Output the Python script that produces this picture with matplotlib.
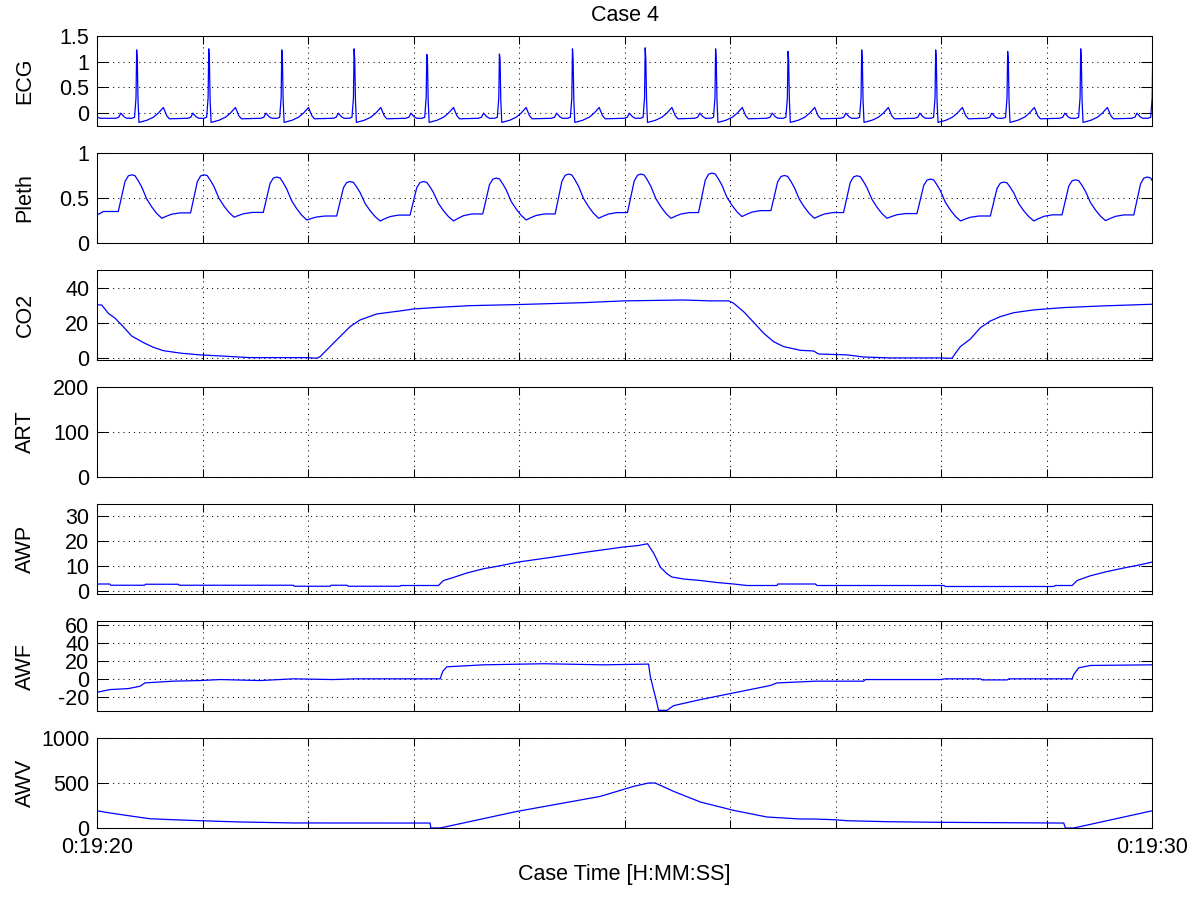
import numpy as np
import matplotlib
matplotlib.use('Agg')
import matplotlib.pyplot as plt

# time in seconds from 0:19:20
x_ticks = [0, 1, 2, 3, 4, 5, 6, 7, 8, 9, 10]
x_ticklabels = ['0:19:20', '', '', '', '', '', '', '', '', '', '0:19:30']

# ECG: R wave times / heights, plus the shape of one beat around its R wave
ecg_r_t = [0.376, 1.059, 1.751, 2.436, 3.125, 3.813, 4.505, 5.194, 5.861, 6.547, 7.245, 7.946, 8.628, 9.320, 10.003]
ecg_r_v = [1.23, 1.25, 1.23, 1.25, 1.14, 1.15, 1.25, 1.27, 1.25, 1.20, 1.23, 1.23, 1.20, 1.25, 1.25]
beat_dt = [-0.20, -0.17, -0.15, -0.12, -0.095, -0.045, -0.02, -0.006, 0.0, 0.006, 0.013, 0.022, 0.095, 0.158, 0.205, 0.253, 0.285, 0.31]
beat_v = [-0.10, -0.08, 0.00, -0.07, -0.10, -0.10, -0.08, 0.30, 1.0, 1.05, 0.25, -0.18, -0.14, -0.08, 0.00, 0.11, -0.05, -0.11]

# Pleth: pulse peak times, peak / trough / plateau levels, and pulse shape
pleth_peak_t = [0.329, 1.014, 1.703, 2.398, 3.093, 3.782, 4.468, 5.153, 5.826, 6.512, 7.200, 7.896, 8.591, 9.270, 9.950]
pleth_peak_v = [0.758, 0.758, 0.733, 0.683, 0.683, 0.721, 0.766, 0.766, 0.777, 0.750, 0.747, 0.710, 0.677, 0.702, 0.733]
pleth_trough = [0.275, 0.287, 0.256, 0.245, 0.245, 0.256, 0.275, 0.275, 0.294, 0.275, 0.275, 0.245, 0.245, 0.249, 0.250]
pleth_plateau = [0.335, 0.340, 0.300, 0.310, 0.323, 0.323, 0.338, 0.338, 0.360, 0.338, 0.327, 0.300, 0.313, 0.312, 0.310]
rise_dt = [-0.127, -0.095, -0.063, -0.032, 0.0]
rise_frac = [0.0, 0.41, 0.82, 0.97, 1.0]
fall_dt = [0.031, 0.063, 0.095, 0.142, 0.19, 0.237, 0.285]
fall_frac = [0.98, 0.86, 0.72, 0.445, 0.26, 0.11, 0.0]
recov_dt = [0.332, 0.38, 0.46]
recov_frac = [0.4, 0.75, 1.0]

co2_t = [0.0, 0.045, 0.107, 0.171, 0.249, 0.329, 0.439, 0.534, 0.628, 0.803, 0.976, 1.166, 1.450, 1.988, 2.082,
         2.114, 2.240, 2.398, 2.493, 2.651, 2.872, 2.998, 3.251, 3.536, 3.978, 4.610, 4.989, 5.557, 5.810, 5.984,
         6.031, 6.126, 6.221, 6.316, 6.410, 6.505, 6.664, 6.790, 6.837, 7.106, 7.263, 7.517, 7.991, 8.054, 8.101,
         8.133, 8.180, 8.275, 8.370, 8.464, 8.559, 8.685, 8.875, 9.159, 9.507, 10.0]
co2_v = [30.2, 30.2, 25.5, 22.7, 17.9, 12.6, 8.9, 6.2, 4.3, 2.8, 1.9, 1.3, 0.35, 0.35, 0.0,
         0.9, 8.5, 17.9, 21.7, 25.1, 26.8, 27.9, 28.9, 29.8, 30.4, 31.5, 32.5, 33.0, 32.5, 32.5,
         31.2, 26.4, 20.4, 14.2, 9.4, 6.6, 4.5, 4.1, 2.4, 1.9, 0.7, 0.17, 0.17, 0.0, 0.0,
         2.8, 6.6, 10.9, 17.3, 21.1, 23.6, 25.8, 27.4, 28.7, 29.6, 30.6]

# ART has no samples in this window
art_t = []
art_v = []

awp_t = [0.0, 0.12, 0.13, 0.45, 0.46, 0.77, 0.78, 1.86, 1.87, 2.21, 2.22, 2.37, 2.38, 2.87, 2.88,
         3.235, 3.283, 3.362, 3.504, 3.662, 3.820, 3.993, 4.294, 4.610, 4.989, 5.131, 5.216, 5.273, 5.305, 5.336,
         5.400, 5.447, 5.557, 5.716, 5.874, 6.031, 6.158, 6.443, 6.45, 6.806, 6.822, 8.022, 8.038, 9.064, 9.081,
         9.239, 9.286, 9.412, 9.571, 9.728, 9.886, 10.0]
awp_v = [2.7, 2.7, 2.2, 2.2, 2.6, 2.6, 2.2, 2.2, 1.8, 1.8, 2.2, 2.2, 1.8, 1.8, 2.1,
         2.1, 4.1, 5.1, 7.1, 8.8, 10.0, 11.5, 13.3, 15.3, 17.5, 18.1, 18.8, 15.1, 12.4, 9.5,
         6.8, 5.5, 4.7, 4.1, 3.3, 2.7, 2.1, 2.1, 2.7, 2.7, 2.1, 2.1, 1.7, 1.7, 2.1,
         2.1, 4.1, 6.0, 7.7, 9.1, 10.4, 11.5]

awf_t = [0.0, 0.123, 0.297, 0.408, 0.455, 0.723, 0.976, 1.166, 1.545, 1.861, 2.240, 2.445, 3.251, 3.277, 3.315,
         3.662, 4.230, 4.799, 5.226, 5.242, 5.273, 5.305, 5.320, 5.400, 5.463, 5.716, 6.031, 6.379, 6.443, 6.664,
         6.806, 7.263, 7.280, 7.991, 8.038, 8.370, 8.386, 8.623, 8.640, 9.239, 9.254, 9.301, 9.412, 10.0]
awf_v = [-14.9, -11.9, -10.8, -8.2, -4.5, -2.6, -1.9, -0.8, -1.9, 0.0, -0.8, 0.0, 0.0, 8.5, 13.3,
         15.5, 16.7, 15.5, 16.3, 2.9, -11.9, -26.7, -34.9, -34.9, -29.7, -23.0, -15.6, -7.4, -4.5, -3.4,
         -2.6, -2.6, -0.8, -0.8, 0.0, 0.0, -1.2, -1.2, 0.0, 0.0, 4.8, 12.2, 14.8, 15.5]

awv_t = [0.0, 0.123, 0.344, 0.502, 0.723, 0.976, 1.355, 1.861, 3.156, 3.163, 3.251, 3.978, 4.768, 5.083, 5.226,
         5.289, 5.463, 5.716, 6.031, 6.348, 6.664, 6.790, 6.979, 7.106, 7.485, 7.991, 9.159, 9.175, 9.254, 10.0]
awv_v = [192, 167, 129, 103, 92, 81, 67, 56, 55, 0, 0, 184, 351, 462, 500,
         500, 407, 289, 196, 122, 100, 100, 92, 81, 70, 63, 55, 0, 0, 192]

# build ECG and Pleth traces from the beats
ecg_t, ecg_v = [0.0, 0.03], [-0.07, -0.10]
for rt, rv in zip(ecg_r_t, ecg_r_v):
    for dt, bv in zip(beat_dt, beat_v):
        ecg_t.append(rt + dt)
        ecg_v.append(rv if dt == 0 else bv)

pleth_t, pleth_v = [0.0, 0.06], [0.31, 0.35]
foot = 0.35
for pt, pk, tr, pl in zip(pleth_peak_t, pleth_peak_v, pleth_trough, pleth_plateau):
    for dt, f in zip(rise_dt, rise_frac):
        pleth_t.append(pt + dt)
        pleth_v.append(foot + f * (pk - foot))
    for dt, f in zip(fall_dt, fall_frac):
        pleth_t.append(pt + dt)
        pleth_v.append(tr + f * (pk - tr))
    for dt, f in zip(recov_dt, recov_frac):
        pleth_t.append(pt + dt)
        pleth_v.append(tr + f * (pl - tr))
    foot = pl

panels = [
    ('ECG', ecg_t, ecg_v, (-0.25, 1.5), [0, 0.5, 1, 1.5], ['0', '0.5', '1', '1.5']),
    ('Pleth', pleth_t, pleth_v, (0, 1), [0, 0.5, 1], ['0', '0.5', '1']),
    ('CO2', co2_t, co2_v, (-1, 50), [0, 20, 40], ['0', '20', '40']),
    ('ART', art_t, art_v, (0, 200), [0, 100, 200], ['0', '100', '200']),
    ('AWP', awp_t, awp_v, (-1.3, 34.7), [0, 10, 20, 30], ['0', '10', '20', '30']),
    ('AWF', awf_t, awf_v, (-35.6, 64), [-20, 0, 20, 40, 60], ['-20', '0', '20', '40', '60']),
    ('AWV', awv_t, awv_v, (0, 1000), [0, 500, 1000], ['0', '500', '1000']),
]

plt.rcParams['font.family'] = ['Liberation Sans', 'DejaVu Sans']
plt.rcParams['font.size'] = 15.5

fig = plt.figure(figsize=(12, 9), dpi=100)

for k, (name, t, v, ylim, yt, ytl) in enumerate(panels):
    ax = fig.add_axes([0.0808, 0.08 + 0.13 * (6 - k), 0.8796, 0.1])
    if len(t) > 0:
        ax.plot(t, v, color='#0000ff', linewidth=0.9)
    ax.set_xlim(0, 10)
    ax.set_ylim(*ylim)
    ax.set_yticks(yt)
    ax.set_yticklabels(ytl)
    ax.set_xticks(x_ticks)
    if k == len(panels) - 1:
        ax.set_xticklabels(x_ticklabels)
        ax.set_xlabel('Case Time [H:MM:SS]', labelpad=4.5)
    else:
        ax.set_xticklabels([])
    ax.grid(True, color='k', linestyle=(0, (1, 4)), linewidth=0.75)
    ax.tick_params(direction='in', top=True, right=True, width=0.75, labelsize=15.5)
    ax.tick_params(axis='x', length=5.5, pad=6.5)
    ax.tick_params(axis='y', length=8, pad=5.5)
    for s in ax.spines.values():
        s.set_linewidth(0.75)
    ax.set_ylabel(name)
    ax.yaxis.set_label_coords(-0.058, 0.5)
    if k == 0:
        ax.set_title('Case 4', fontsize=15.5, pad=10.5)

fig.savefig('out.png', dpi=100)
